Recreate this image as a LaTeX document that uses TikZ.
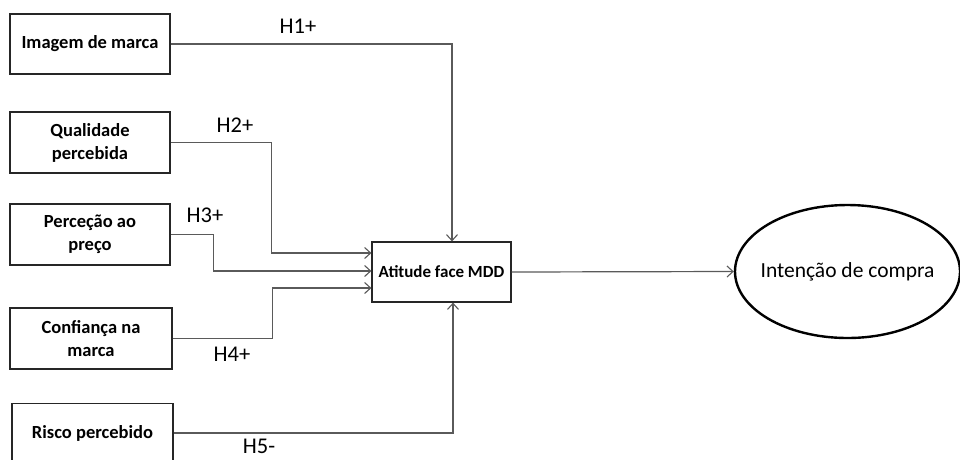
\documentclass[tikz,border=0pt]{standalone}
\usepackage{fontspec}
\setmainfont{Carlito}
\usetikzlibrary{arrows.meta,shapes.geometric,positioning}
\definecolor{linegray}{HTML}{5A5A5A}
\tikzset{
  vbox/.style={draw=black!85, line width=1.2pt, minimum width=160pt, minimum height=60pt, align=center, inner sep=2pt,
    font=\fontsize{18.5}{23}\selectfont\bfseries},
  conn/.style={draw=linegray, line width=1.2pt, -{Straight Barb[length=6pt,width=11pt,line width=1.1pt]}},
  hlab/.style={font=\fontsize{22.5}{26}\selectfont, inner sep=0pt},
}
\begin{document}
\begin{tikzpicture}[x=1pt,y=-1pt]
\useasboundingbox (0,0) rectangle (960,459);
\fill[white] (0,0) rectangle (960,459);
\node[vbox] (b1) at (90,44) {Imagem de marca};
\node[vbox, minimum height=61pt] (b2) at (90,142.5) {Qualidade\\percebida};
\node[vbox, minimum height=61pt] (b3) at (90,234.5) {Perceção ao\\preço};
\node[vbox, minimum width=162pt, minimum height=61pt] (b4) at (91,338.5) {Confiança na\\marca};
\node[vbox, minimum width=161pt, minimum height=60pt, anchor=north] (b5) at (92.5,403) {\vphantom{Ag}};
\node[font=\fontsize{18.5}{23}\selectfont\bfseries] (t5) at (b5.center |- 0,433) {Risco percebido};
\node[vbox, minimum width=139pt, minimum height=60pt, font=\fontsize{17}{21}\selectfont\bfseries] (c) at (441.5,272) {Atitude face MDD};
\node[draw=black, line width=2.4pt, ellipse, inner sep=0pt, minimum width=225pt, minimum height=133pt] (e) at (847.5,271.5) {};
\node[font=\fontsize{21.5}{25}\selectfont] (et) at (e.center) {Intenção de compra};

\coordinate (b5e) at (b5.east |- t5);
\draw[conn] (b1.east) -| ([xshift=10.5pt]c.north);
\draw[conn] (b2.east) -- ++(101,0) |- ([yshift=19pt]c.west);
\draw[conn] (b3.east) -- ++(43,0) |- ([yshift=1pt]c.west);
\draw[conn] (b4.east) -- ++(100,0) |- ([yshift=-16pt]c.west);
\draw[conn] (b5e) -| ([xshift=11.5pt]c.south);
\draw[conn] (c.east) -- (e.west);

\node[hlab] (h1) at (298,26) {H1+};
\node[hlab] (h2) at (235,125) {H2+};
\node[hlab] (h3) at (205,215) {H3+};
\node[hlab] (h4) at (232,354) {H4+};
\node[hlab] (h5) at (259,446) {H5-};
\end{tikzpicture}
\end{document}
